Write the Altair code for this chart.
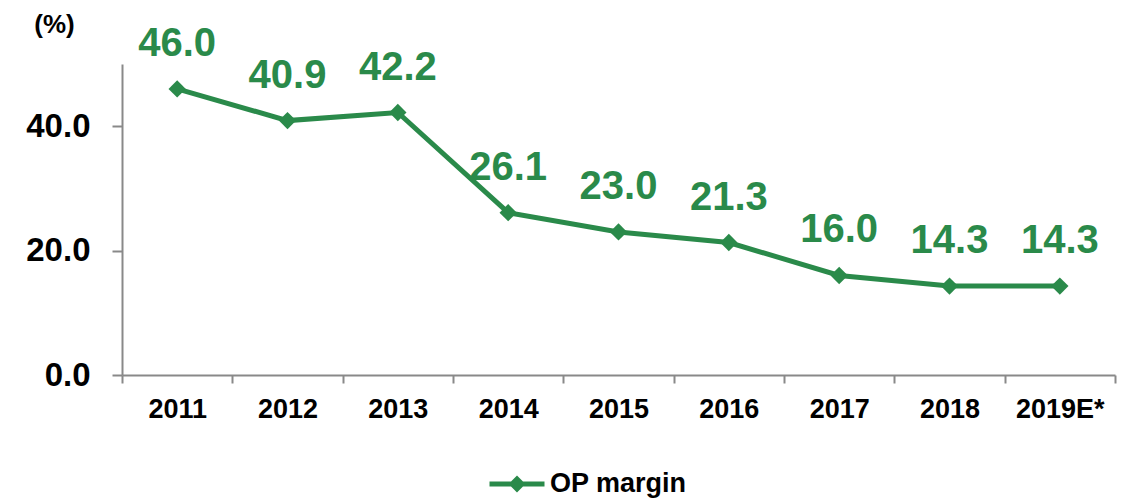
import altair as alt
import pandas as pd

years = ["2011", "2012", "2013", "2014", "2015", "2016", "2017", "2018", "2019E*"]
op_margin = [46.0, 40.9, 42.2, 26.1, 23.0, 21.3, 16.0, 14.3, 14.3]
series_name = "OP margin"
y_ticks = [0, 20, 40]

GREEN = "#2A8A4A"
AXIS_GRAY = "#898989"
FONT = "Liberation Sans"

df = pd.DataFrame({"year": years, "value": op_margin, "series": [series_name] * len(years)})

x_enc = alt.X(
    "year:N",
    sort=years,
    scale=alt.Scale(type="band", paddingInner=0, paddingOuter=0),
    axis=alt.Axis(
        title=None,
        labelAngle=0,
        labelFont=FONT,
        labelFontSize=27,
        labelFontWeight="bold",
        labelColor="black",
        labelPadding=13,
        tickSize=8,
        tickBand="extent",
        tickColor=AXIS_GRAY,
        tickWidth=2,
        domainColor=AXIS_GRAY,
        domainWidth=2,
        grid=False,
    ),
)

y_enc = alt.Y(
    "value:Q",
    scale=alt.Scale(domain=[0, 50], nice=False),
    axis=alt.Axis(
        values=y_ticks,
        format=".1f",
        title="(%)",
        titleAngle=0,
        titleX=-68,
        titleY=-32,
        titleAlign="center",
        titleBaseline="alphabetic",
        titleFont=FONT,
        titleFontSize=26,
        titleFontWeight="bold",
        titleColor="black",
        labelFont=FONT,
        labelFontSize=33,
        labelFontWeight="bold",
        labelColor="black",
        labelPadding=22,
        tickSize=10,
        tickColor=AXIS_GRAY,
        tickWidth=2,
        domainColor=AXIS_GRAY,
        domainWidth=2,
        grid=False,
    ),
)

legend_path = "M-1,0L1,0M-0.18,0L0,-0.18L0.18,0L0,0.18Z"

line = alt.Chart(df).mark_line(strokeWidth=5).encode(
    x=x_enc,
    y=y_enc,
    color=alt.Color(
        "series:N",
        scale=alt.Scale(domain=[series_name], range=[GREEN]),
        legend=alt.Legend(
            title=None,
            orient="none",
            legendX=365,
            legendY=390,
            symbolType=legend_path,
            symbolSize=3025,
            symbolStrokeWidth=5,
            symbolFillColor=GREEN,
            symbolStrokeColor=GREEN,
            labelFont=FONT,
            labelFontSize=27,
            labelFontWeight="bold",
            labelColor="black",
            labelOffset=3,
        ),
    ),
)

points = alt.Chart(df).mark_point(shape="diamond", filled=True, size=300, opacity=1, color=GREEN).encode(
    x=alt.X("year:N", sort=years),
    y="value:Q",
)

labels = alt.Chart(df).mark_text(
    font=FONT, fontSize=40, fontWeight="bold", color=GREEN, dy=-33, baseline="alphabetic", align="center"
).encode(
    x=alt.X("year:N", sort=years),
    y="value:Q",
    text=alt.Text("value:Q", format=".1f"),
)

chart = (
    alt.layer(line, points, labels)
    .properties(
        width=993,
        height=311,
        background="white",
        autosize=alt.AutoSizeParams(type="none"),
        padding={"left": 114, "top": 56, "right": 5, "bottom": 124},
    )
    .configure_view(stroke="transparent", strokeWidth=0)
)

chart.save("out.html", embed_options={"renderer": "svg", "actions": False})
